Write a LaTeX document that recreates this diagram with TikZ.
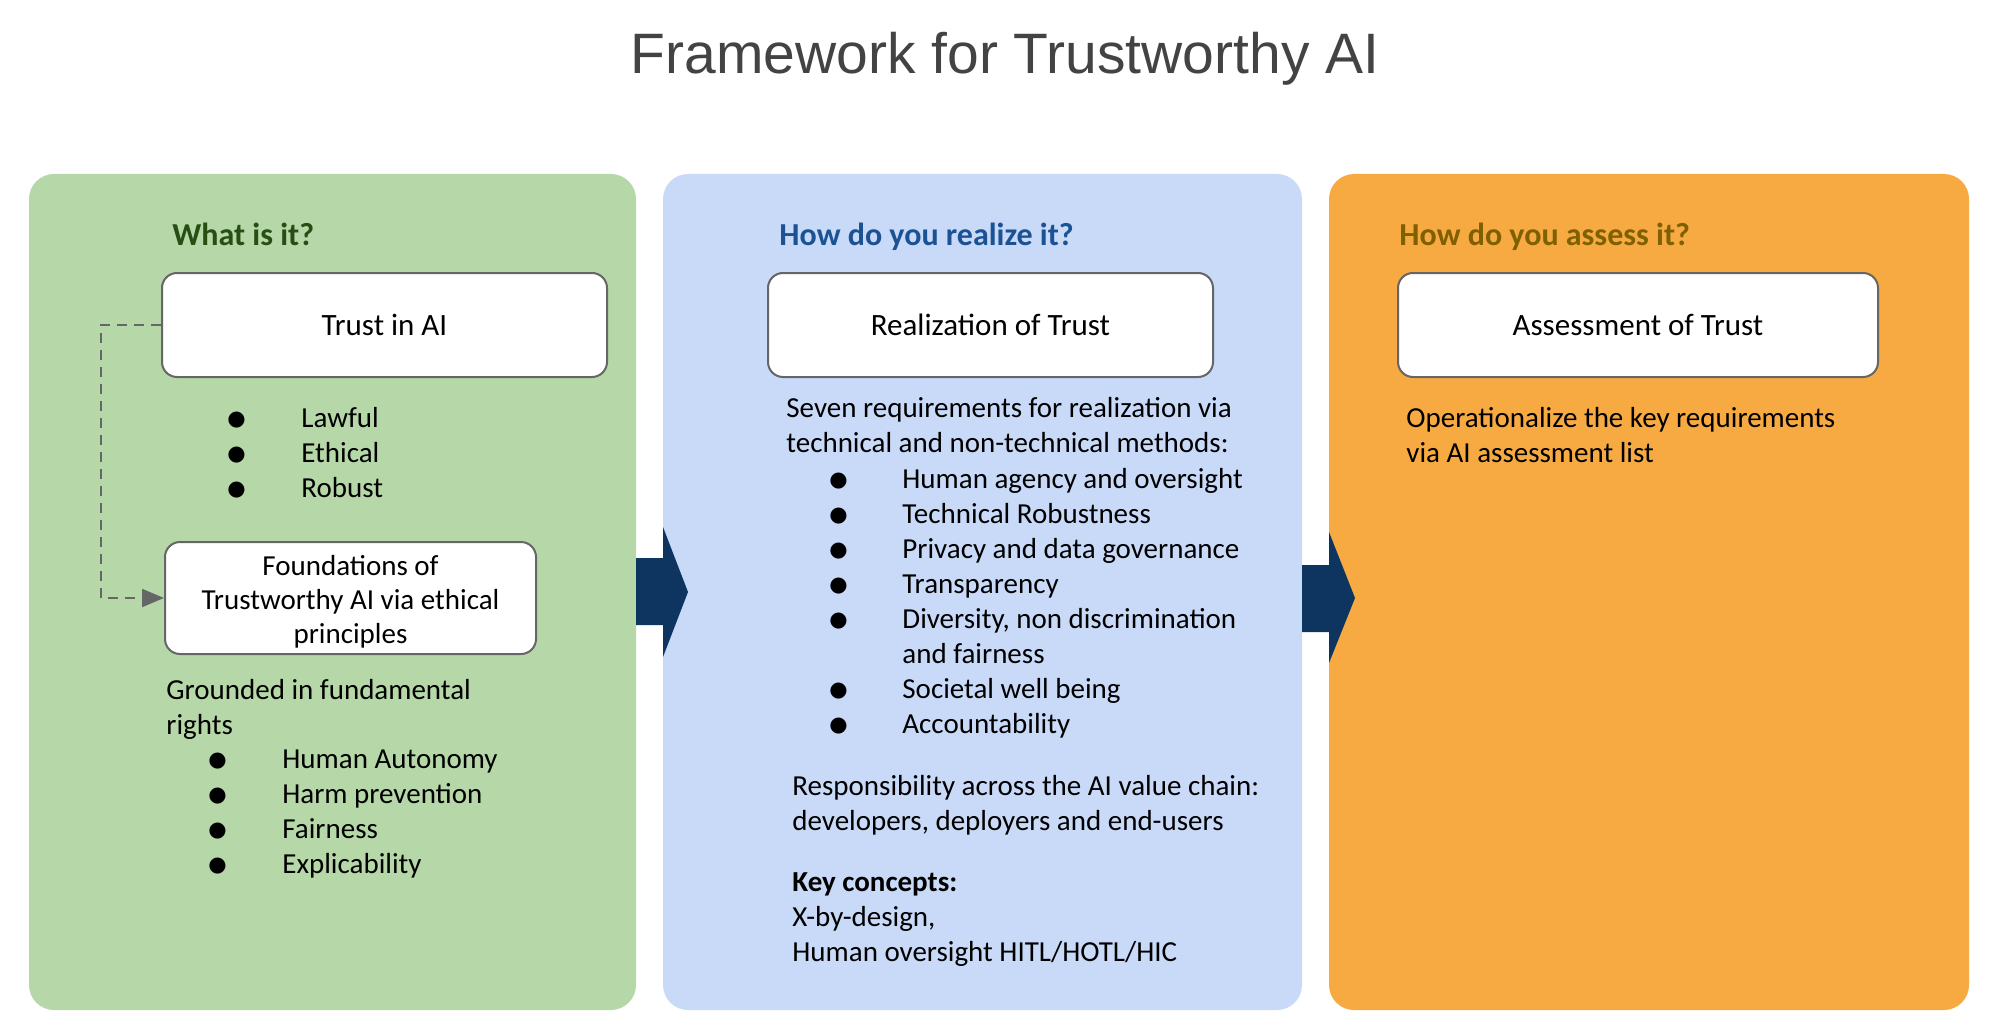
\documentclass[tikz,border=0pt]{standalone}
\usepackage{fontspec}
\setmainfont{Carlito}
\newfontfamily\titlefont{Liberation Sans}
\newfontfamily\dotfont{DejaVu Sans}
\usetikzlibrary{arrows.meta}
\definecolor{greenpanel}{HTML}{B6D7A8}
\definecolor{bluepanel}{HTML}{C9DAF8}
\definecolor{orangepanel}{HTML}{F6AA41}
\definecolor{navyarrow}{HTML}{0E355F}
\definecolor{greenhead}{HTML}{274E13}
\definecolor{bluehead}{HTML}{1B5294}
\definecolor{orangehead}{HTML}{7F6000}
\definecolor{titlegray}{HTML}{434343}
\definecolor{boxline}{HTML}{666666}
\newcommand\bigdot{\raisebox{0.6pt}{\dotfont\fontsize{10.5}{12}\selectfont ●}}

\begin{document}
\begin{tikzpicture}[x=0.5pt, y=-0.5pt,
    body/.style={font=\fontsize{14.5}{17.5}\selectfont, inner sep=0pt, anchor=base west},
    head/.style={font=\fontsize{16}{19}\selectfont\bfseries, inner sep=0pt, anchor=base west},
    card/.style={draw=boxline, line width=1pt, fill=white, rounded corners=7.5pt,
        minimum height=52pt, inner sep=0pt, align=center, font=\fontsize{15.5}{19}\selectfont}]
    \useasboundingbox (0,0) rectangle (2000,1032);

    % Title
    \node[font=\titlefont\fontsize{28.5}{34}\selectfont, text=titlegray, anchor=base] (title) at (1005,74) {Framework for Trustworthy AI};

    % Draw panels
    \fill[greenpanel, rounded corners=12.5pt] (29,174) rectangle (636,1010);
    \fill[bluepanel, rounded corners=12.5pt] (663,174) rectangle (1302,1010);
    \fill[orangepanel, rounded corners=12.5pt] (1329,174) rectangle (1969,1010);

    % Draw block arrows between panels
    \fill[navyarrow] (636,558) -- (663,558) -- (663,527) -- (688,592) -- (663,657) -- (663,625) -- (636,625) -- cycle;
    \fill[navyarrow] (1302,565) -- (1329,565) -- (1329,532) -- (1355,598) -- (1329,663) -- (1329,632) -- (1302,632) -- cycle;

    % What is it?
    \node[head, text=greenhead] (whathead) at (172,245) {What is it?};
    \node[card, minimum width=222.5pt, text height=11pt] (trust) at (384.5,325) {Trust in AI};
    \node[body] (lawlist) at (227,427) {\begin{tabular}[t]{@{}p{37pt}@{}l@{}}
        \bigdot & Lawful\\ \bigdot & Ethical\\ \bigdot & Robust\end{tabular}};
    \node[card, minimum width=185.5pt, font=\fontsize{14.5}{17}\selectfont, text height=16.9pt] (found) at (350.5,598)
        {\begin{tabular}[t]{@{}c@{}}Foundations of\\Trustworthy AI via ethical\\principles\end{tabular}};
    \node[body] (grounded) at (166,699) {\begin{tabular}[t]{@{}l@{}}Grounded in fundamental\\rights\end{tabular}};
    \node[body] (rightlist) at (208,768) {\begin{tabular}[t]{@{}p{37pt}@{}l@{}}
        \bigdot & Human Autonomy\\ \bigdot & Harm prevention\\
        \bigdot & Fairness\\ \bigdot & Explicability\end{tabular}};
    \draw[boxline, line width=1pt, dash pattern=on 5pt off 3.5pt, -{Triangle[length=11pt, width=9pt]}]
        (trust.west) -- ++(-60,0) |- (found.west);

    % How do you realize it?
    \node[head, text=bluehead] (realhead) at (779,245) {How do you realize it?};
    \node[card, minimum width=222.5pt, text height=11pt] (real) at (990.5,325) {Realization of Trust};
    \node[body] (seven) at (786,417) {\begin{tabular}[t]{@{}l@{}}Seven requirements for realization via\\technical and non-technical methods:\end{tabular}};
    \node[body] (reqlist) at (829,488) {\begin{tabular}[t]{@{}p{36.5pt}@{}l@{}}
        \bigdot & Human agency and oversight\\ \bigdot & Technical Robustness\\
        \bigdot & Privacy and data governance\\ \bigdot & Transparency\\
        \bigdot & Diversity, non discrimination\\ & and fairness\\
        \bigdot & Societal well being\\ \bigdot & Accountability\end{tabular}};
    \node[body] (resp) at (792,795) {\begin{tabular}[t]{@{}l@{}}Responsibility across the AI value chain:\\developers, deployers and end-users\end{tabular}};
    \node[body] (keys) at (792,891) {\begin{tabular}[t]{@{}l@{}}\textbf{Key concepts:}\\X-by-design,\\Human oversight HITL/HOTL/HIC\end{tabular}};

    % How do you assess it?
    \node[head, text=orangehead] (assesshead) at (1399,245) {How do you assess it?};
    \node[card, minimum width=240pt, text height=11pt] (assess) at (1638,325) {Assessment of Trust};
    \node[body] (oper) at (1406,427) {\begin{tabular}[t]{@{}l@{}}Operationalize the key requirements\\via AI assessment list\end{tabular}};
\end{tikzpicture}
\end{document}
